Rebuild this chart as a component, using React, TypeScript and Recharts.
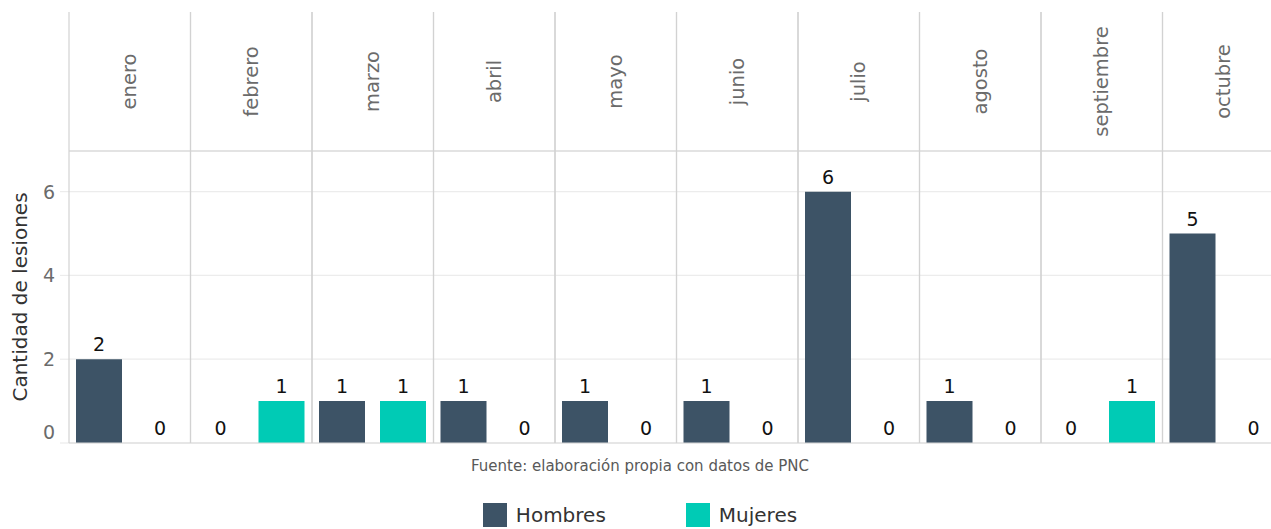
import React from 'react';
import { BarChart, Bar, XAxis, YAxis, CartesianGrid, LabelList, Legend, ReferenceLine } from 'recharts';

const months = ['enero', 'febrero', 'marzo', 'abril', 'mayo', 'junio', 'julio', 'agosto', 'septiembre', 'octubre'];
const hombres = [2, 0, 1, 1, 1, 1, 6, 1, 0, 5];
const mujeres = [0, 1, 1, 0, 0, 0, 0, 0, 1, 0];
const yTicks = [0, 2, 4, 6];
const seriesNames = ['Hombres', 'Mujeres'];
const seriesColors = ['#3d5366', '#00cbb5'];
const caption = 'Fuente: elaboración propia con datos de PNC';
const yTitle = 'Cantidad de lesiones';

const data = months.map((m, i) => ({ month: m, Hombres: hombres[i], Mujeres: mujeres[i] }));

const CHART_W = 1300;
const CHART_H = 529;
const M_TOP = 12;
const M_RIGHT = 16;
const Y_W = 69;
const STRIP_H = 139;
const LEGEND_H = 86;
const PLOT_W = CHART_W - Y_W - M_RIGHT;
const BAND = PLOT_W / months.length;
const PLOT_BOTTOM = CHART_H - LEGEND_H;
const FONT = 'DejaVu Sans, sans-serif';

const StripTick = (props: any) => {
  const { x, payload } = props;
  const cy = M_TOP + STRIP_H / 2;
  return (
    <g>
      <line x1={x - BAND / 2} x2={x - BAND / 2} y1={M_TOP} y2={PLOT_BOTTOM} stroke="#d2d2d2" strokeWidth={1.2} />
      <line x1={x + BAND / 2} x2={x + BAND / 2} y1={M_TOP} y2={PLOT_BOTTOM} stroke="#d2d2d2" strokeWidth={1.2} />
      <text
        x={x}
        y={cy}
        transform={`rotate(-90, ${x}, ${cy})`}
        textAnchor="middle"
        dominantBaseline="central"
        fill="#6b6b6b"
        fontSize={19.5}
        fontFamily={FONT}
      >
        {payload.value}
      </text>
    </g>
  );
};

const YTick = (props: any) => {
  const { x, y, payload } = props;
  const shift = payload.value === 0 ? -11 : 0;
  return (
    <text x={x} y={y + shift} textAnchor="end" dominantBaseline="central" fill="#6b6b6b" fontSize={19} fontFamily={FONT}>
      {payload.value}
    </text>
  );
};

const YTitle = (props: any) => {
  const vb = props.viewBox || {};
  const cy = vb.y + vb.height / 2;
  const cx = 20;
  return (
    <text
      x={cx}
      y={cy}
      transform={`rotate(-90, ${cx}, ${cy})`}
      textAnchor="middle"
      dominantBaseline="central"
      fill="#333333"
      fontSize={20}
      fontFamily={FONT}
    >
      {yTitle}
    </text>
  );
};

const LegendContent = () => (
  <div style={{ width: 1280, height: LEGEND_H, position: 'relative', fontFamily: FONT }}>
    <div style={{ position: 'absolute', top: 14, left: 0, width: 1280, textAlign: 'center', fontSize: 15, color: '#595959' }}>
      {caption}
    </div>
    <div style={{ position: 'absolute', top: 60, left: 0, width: 1280, display: 'flex', justifyContent: 'center' }}>
      {seriesNames.map((n, i) => (
        <div key={n} style={{ display: 'flex', alignItems: 'flex-start', marginRight: i === 0 ? 80 : 0 }}>
          <div style={{ width: 24, height: 24, background: seriesColors[i], marginRight: 9 }} />
          <span style={{ fontSize: 20, color: '#333333', lineHeight: '20px', marginTop: 2 }}>{n}</span>
        </div>
      ))}
    </div>
  </div>
);

export default function App() {
  return (
    <div style={{ position: 'absolute', left: 0, top: 0, width: 1271, height: 529, overflow: 'hidden', background: '#fff' }}>
      <BarChart
        width={CHART_W}
        height={CHART_H}
        data={data}
        margin={{ top: M_TOP, right: M_RIGHT, left: 0, bottom: 0 }}
        barSize={46}
        barGap={15}
      >
        <CartesianGrid vertical={false} stroke="#ececec" strokeWidth={1.2} />
        <XAxis
          dataKey="month"
          orientation="top"
          height={STRIP_H}
          axisLine={{ stroke: '#d2d2d2', strokeWidth: 1.2 }}
          tickLine={false}
          tick={<StripTick />}
          interval={0}
        />
        <YAxis
          width={Y_W}
          domain={[0, 6.97]}
          ticks={yTicks}
          allowDataOverflow
          axisLine={false}
          tickSize={9}
          tickMargin={5}
          tickLine={{ stroke: '#ececec', strokeWidth: 1.2 }}
          tick={<YTick />}
          label={<YTitle />}
        />
        <ReferenceLine y={0} stroke="#d8d8d8" strokeWidth={1.2} />
        <Legend verticalAlign="bottom" align="left" content={<LegendContent />} wrapperStyle={{ left: 0, width: 1280, height: LEGEND_H }} />
        {seriesNames.map((n, i) => (
          <Bar key={n} dataKey={n} fill={seriesColors[i]} isAnimationActive={false} legendType="square" minPointSize={0.01}>
            <LabelList dataKey={n} position="top" offset={8} fill="#111111" fontSize={19} fontFamily={FONT} />
          </Bar>
        ))}
      </BarChart>
    </div>
  );
}
